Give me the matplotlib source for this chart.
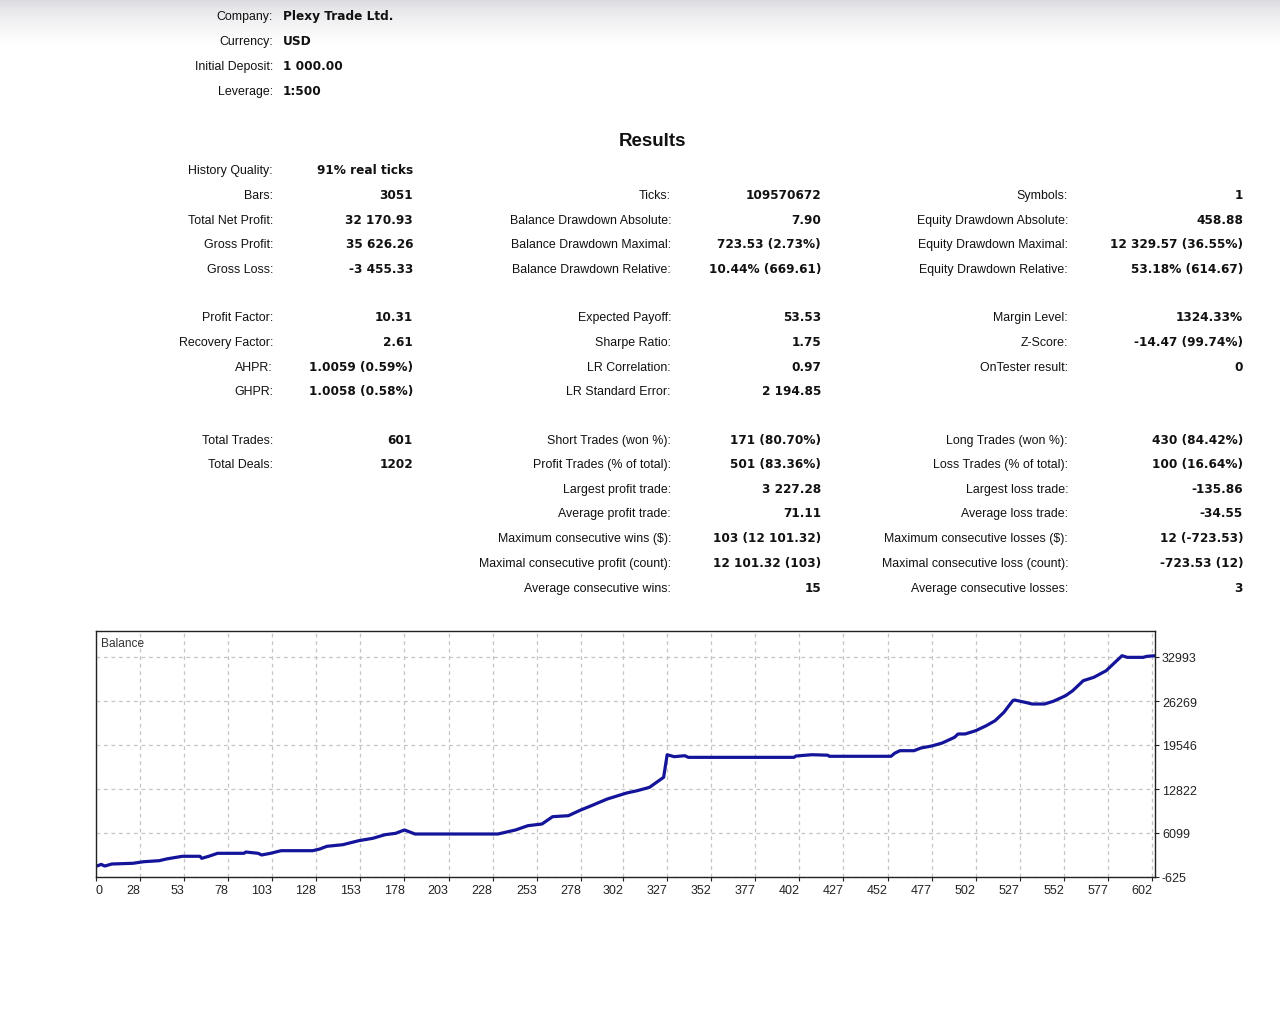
import matplotlib
matplotlib.use('Agg')
import matplotlib.pyplot as plt
import numpy as np

plt.rcParams['font.family'] = ['Liberation Sans', 'DejaVu Sans']

W, H = 1280, 1020

# header block
header_labels = ['Company:', 'Currency:', 'Initial Deposit:', 'Leverage:']
header_values = ['Plexy Trade Ltd.', 'USD', '1 000.00', '1:500']

# results, three columns of (label, value) with their row slots
col1_labels = ['History Quality:', 'Bars:', 'Total Net Profit:', 'Gross Profit:', 'Gross Loss:',
               'Profit Factor:', 'Recovery Factor:', 'AHPR:', 'GHPR:',
               'Total Trades:', 'Total Deals:']
col1_values = ['91% real ticks', '3051', '32 170.93', '35 626.26', '-3 455.33',
               '10.31', '2.61', '1.0059 (0.59%)', '1.0058 (0.58%)',
               '601', '1202']
col1_rows = [0, 1, 2, 3, 4, 5, 6, 7, 8, 9, 10]

col2_labels = ['Ticks:', 'Balance Drawdown Absolute:', 'Balance Drawdown Maximal:',
               'Balance Drawdown Relative:',
               'Expected Payoff:', 'Sharpe Ratio:', 'LR Correlation:', 'LR Standard Error:',
               'Short Trades (won %):', 'Profit Trades (% of total):', 'Largest profit trade:',
               'Average profit trade:', 'Maximum consecutive wins ($):',
               'Maximal consecutive profit (count):', 'Average consecutive wins:']
col2_values = ['109570672', '7.90', '723.53 (2.73%)', '10.44% (669.61)',
               '53.53', '1.75', '0.97', '2 194.85',
               '171 (80.70%)', '501 (83.36%)', '3 227.28', '71.11', '103 (12 101.32)',
               '12 101.32 (103)', '15']
col2_rows = [1, 2, 3, 4, 5, 6, 7, 8, 9, 10, 11, 12, 13, 14, 15]

col3_labels = ['Symbols:', 'Equity Drawdown Absolute:', 'Equity Drawdown Maximal:',
               'Equity Drawdown Relative:',
               'Margin Level:', 'Z-Score:', 'OnTester result:',
               'Long Trades (won %):', 'Loss Trades (% of total):', 'Largest loss trade:',
               'Average loss trade:', 'Maximum consecutive losses ($):',
               'Maximal consecutive loss (count):', 'Average consecutive losses:']
col3_values = ['1', '458.88', '12 329.57 (36.55%)', '53.18% (614.67)',
               '1324.33%', '-14.47 (99.74%)', '0',
               '430 (84.42%)', '100 (16.64%)', '-135.86', '-34.55', '12 (-723.53)',
               '-723.53 (12)', '3']
col3_rows = [1, 2, 3, 4, 5, 6, 7, 9, 10, 11, 12, 13, 14, 15]

# balance curve
trades = [3, 6, 8, 12, 24, 30, 39, 43, 52, 62, 63, 67, 72, 87, 88, 95, 97, 102, 108,
          126, 130, 134, 143, 152, 160, 167, 173, 178, 184, 231, 241, 248, 256, 262,
          271, 278, 284, 293, 304, 310, 317, 325, 327, 331, 337, 339, 399, 400, 409,
          418, 419, 454, 456, 459, 467, 471, 477, 483, 490, 492, 496, 502, 508, 513,
          518, 523, 524, 530, 534, 541, 546, 553, 557, 563, 569, 576, 580, 585, 588,
          597, 599, 603]
balance = [1000, 1300, 1050, 1360, 1470, 1710, 1870, 2130, 2540, 2540, 2230, 2540, 2995,
           2995, 3195, 2995, 2740, 2995, 3395, 3395, 3655, 4065, 4310, 4920, 5285, 5840,
           6050, 6560, 5945, 5945, 6560, 7215, 7475, 8590, 8745, 9615, 10270, 11290,
           12210, 12560, 13080, 14610, 18060, 17760, 17910, 17660, 17660, 17860, 18060,
           17990, 17820, 17820, 18280, 18675, 18675, 19090, 19390, 19850, 20720, 21230,
           21230, 21730, 22495, 23260, 24540, 26315, 26420, 26070, 25810, 25810, 26220,
           27080, 27840, 29370, 29890, 30900, 31920, 33190, 32940, 32940, 33090, 33171]

x_ticks = [28, 53, 78, 103, 128, 153, 178, 203, 228, 253, 278, 302, 327, 352, 377, 402,
           427, 452, 477, 502, 527, 552, 577, 602]
y_ticks = [-625, 6099, 12822, 19546, 26269, 32993]

fig = plt.figure(figsize=(W / 100, H / 100), dpi=100)
fig.patch.set_facecolor('white')

# faint shadow along the top edge
bg = fig.add_axes([0, 1 - 45 / H, 1, 45 / H], zorder=-5)
grad = np.linspace(0, 1, 90) ** 0.6
shade = np.ones((90, 2, 3))
shade[:, :, 0] = 0.84 + 0.16 * grad[:, None]
shade[:, :, 1] = 0.84 + 0.16 * grad[:, None]
shade[:, :, 2] = 0.86 + 0.14 * grad[:, None]
bg.imshow(shade, aspect='auto', extent=[0, 1, 0, 1], origin='upper',
          interpolation='bilinear')
bg.axis('off')


def fx(px):
    return px / W


def fy(py):
    # py is the text centre line in pixels; texts sit on a baseline below it
    return 1 - (py + 5) / H


LAB = dict(fontsize=8.9, color='#111111', family=['Liberation Sans', 'DejaVu Sans'])
VAL = dict(fontsize=8.7, color='#111111', weight='bold', family=['DejaVu Sans'])

for i, (lab, val) in enumerate(zip(header_labels, header_values)):
    y = 15 + 24.9 * i
    fig.text(fx(273), fy(y), lab, ha='right', va='baseline', **LAB)
    fig.text(fx(283), fy(y), val, ha='left', va='baseline', **VAL)

fig.text(fx(652), 1 - 141.5 / H, 'Results', ha='center', va='center', fontsize=13.5,
         weight='bold', color='#111111')

row_y = [169, 194, 219, 243, 268, 316, 341, 366, 390, 439, 463, 488, 512, 537, 562, 587]


def draw_col(labels, values, rows, lab_x, val_x):
    for lab, val, r in zip(labels, values, rows):
        y = row_y[r]
        fig.text(fx(lab_x), fy(y), lab, ha='right', va='baseline', **LAB)
        fig.text(fx(val_x), fy(y), val, ha='right', va='baseline', **VAL)


draw_col(col1_labels, col1_values, col1_rows, 273, 413)
draw_col(col2_labels, col2_values, col2_rows, 671, 821)
draw_col(col3_labels, col3_values, col3_rows, 1068, 1243)

# balance chart
ax = fig.add_axes([fx(96), 1 - 878 / H, fx(1155 - 96), (878 - 632) / H])
ax.plot(trades, balance, color='#14149a', lw=2.3, solid_joinstyle='round')

step = (x_ticks[-1] - x_ticks[0]) / (len(x_ticks) - 1)
x0 = x_ticks[0] - step
ax.set_xlim(x0, x_ticks[-1] + step * 3 / 44)
ystep = (y_ticks[-1] - y_ticks[0]) / (len(y_ticks) - 1)
ax.set_ylim(y_ticks[0], y_ticks[-1] + ystep * 26 / 44)

ax.set_xticks([x0] + x_ticks)
ax.set_xticklabels(['0'] + [str(v) for v in x_ticks])
for i, t in enumerate(ax.get_xticklabels()):
    t.set_ha('left' if i == 0 else 'right')
ax.set_yticks(y_ticks)
ax.set_yticklabels([str(v) for v in y_ticks])
ax.yaxis.tick_right()
ax.tick_params(axis='both', labelsize=9, colors='#222222', length=3, width=0.8,
               direction='out')
ax.tick_params(axis='x', pad=2)
ax.tick_params(axis='y', pad=2)

ax.grid(True, color='#c4c4c4', linestyle=(0, (3, 3)), lw=0.9)
for s in ax.spines.values():
    s.set_color('#222222')
    s.set_linewidth(1.0)

ax.text(0.005, 0.975, 'Balance', transform=ax.transAxes, ha='left', va='top',
        fontsize=8.6, color='#333333')

fig.savefig('out.png', dpi=100, facecolor='white')
